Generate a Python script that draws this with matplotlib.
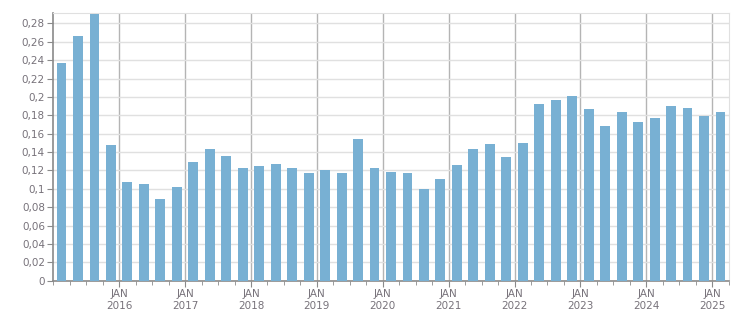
import numpy as np
import matplotlib
matplotlib.use('Agg')
import matplotlib.pyplot as plt
from matplotlib.ticker import FixedLocator, FuncFormatter

# quarterly values, Q1 2015 .. Q1 2025
start_year = 2015
values = [0.237, 0.266, 0.290, 0.148,
          0.107, 0.105, 0.089, 0.102,
          0.129, 0.143, 0.136, 0.123,
          0.125, 0.127, 0.123, 0.117,
          0.120, 0.117, 0.154, 0.123,
          0.118, 0.117, 0.100, 0.111,
          0.126, 0.143, 0.149, 0.135,
          0.150, 0.192, 0.197, 0.201,
          0.187, 0.168, 0.184, 0.173,
          0.177, 0.190, 0.188, 0.179,
          0.184]
years = list(range(2016, 2026))
year_labels = ['JAN\n%d' % y for y in years]

bar_color = '#78b0d3'
text_color = '#77727a'

fig = plt.figure(figsize=(7.51, 3.13), dpi=100)
ax = fig.add_axes([53.3/751, (313-280.7)/313, (728.7-53.3)/751, (280.7-13.3)/313])

x = start_year + 0.25*np.arange(len(values)) + 0.125
ax.bar(x, values, width=0.15, color=bar_color, zorder=3)

ax.set_xlim(start_year, start_year + 0.25*len(values))
ax.set_ylim(0, 0.291)

ax.set_yticks(np.arange(0, 0.2801, 0.02))
ax.yaxis.set_major_formatter(FuncFormatter(lambda v, p: ('%g' % round(v, 2)).replace('.', ',')))
ax.xaxis.set_major_locator(FixedLocator(years))
ax.set_xticklabels(year_labels)
ax.xaxis.set_minor_locator(FixedLocator(start_year + 0.25*np.arange(len(values)+1)))

ax.grid(axis='y', color='#e0e0e0', linewidth=1, zorder=0)
ax.grid(axis='x', which='major', color='#b4b4b4', linewidth=1, zorder=1)

for s in ['top', 'right']:
    ax.spines[s].set_color('#e0e0e0')
for s in ['left', 'bottom']:
    ax.spines[s].set_color('#8a8a8a')
    ax.spines[s].set_linewidth(1.2)

ax.tick_params(axis='both', which='both', colors='#8a8a8a', labelcolor=text_color, labelsize=7.5)
ax.tick_params(axis='x', which='major', length=4, pad=2)
ax.tick_params(axis='x', which='minor', length=3)
ax.tick_params(axis='y', length=4, pad=2)

fig.savefig('out.png', dpi=100)
